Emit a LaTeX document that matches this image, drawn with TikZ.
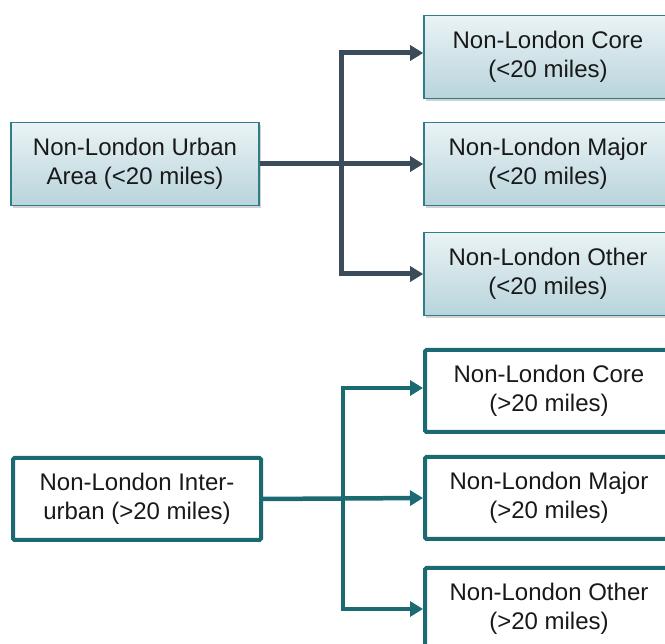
\documentclass[tikz,border=0pt]{standalone}
\usepackage{fontspec}
\setmainfont{Liberation Sans}
\usepackage{xcolor}
\usetikzlibrary{arrows.meta,shadows}

\definecolor{boxTeal}{HTML}{2F7D88}
\definecolor{lineSlate}{HTML}{3B4B5A}
\definecolor{lineTeal}{HTML}{1B6A72}
\definecolor{fillTop}{HTML}{EAF3F5}
\definecolor{fillBottom}{HTML}{B8D4DB}

\tikzset{
  urbanbox/.style={draw=boxTeal, line width=1.6pt, top color=fillTop, bottom color=fillBottom,
    minimum width=248pt, minimum height=83pt, align=center, text=black!90,
    font=\fontsize{24}{29.5}\selectfont, drop shadow={shadow xshift=1.5pt, shadow yshift=-2.5pt, opacity=0.35}},
  interbox/.style={draw=lineTeal, line width=4pt, fill=white, rounded corners=1.5pt,
    minimum width=248pt, minimum height=82pt, align=center, text=black!90,
    font=\fontsize{24}{29.5}\selectfont},
  urbanlink/.style={draw=lineSlate, line width=5pt, -{Triangle[length=13pt,width=15pt]}},
  interlink/.style={draw=lineTeal, line width=4.5pt, -{Triangle[length=13pt,width=15pt]}}
}

\begin{document}
\begin{tikzpicture}[x=1pt,y=-1pt]
  \pgfmathsetmacro{\leftX}{135}
  \pgfmathsetmacro{\rightX}{548}
  \pgfmathsetmacro{\trunkUrban}{341}
  \pgfmathsetmacro{\trunkInter}{343}

  \clip (0,0) rectangle (665,644);
  \fill[white] (0,0) rectangle (665,644);

  % Urban (<20 miles)
  \node[urbanbox] (urban) at (\leftX,164) {Non-London Urban\\Area (<20 miles)};
  \node[urbanbox] (ucore) at (\rightX,57) {Non-London Core\\(<20 miles)};
  \node[urbanbox] (umajor) at (\rightX,164) {Non-London Major\\(<20 miles)};
  \node[urbanbox] (uother) at (\rightX,274) {Non-London Other\\(<20 miles)};

  \coordinate (utrunk) at (\trunkUrban,164);
  \draw[urbanlink] (urban.east) -- (umajor.west);
  \draw[urbanlink] (utrunk) |- ([yshift=4pt]ucore.west);
  \draw[urbanlink] (utrunk) |- (uother.west);

  % Inter-urban (>20 miles)
  \node[interbox] (inter) at (137,499) {Non-London Inter-\\urban (>20 miles)};
  \node[interbox] (icore) at (\rightX+1,391) {Non-London Core\\(>20 miles)};
  \node[interbox] (imajor) at (\rightX+1,498) {Non-London Major\\(>20 miles)};
  \node[interbox] (iother) at (\rightX+1,609) {Non-London Other\\(>20 miles)};

  \coordinate (itrunk) at (\trunkInter,499);
  \draw[interlink] (inter.east) -- (imajor.west);
  \draw[interlink] (itrunk) |- ([yshift=3pt]icore.west);
  \draw[interlink] (itrunk) |- (iother.west);
\end{tikzpicture}
\end{document}
